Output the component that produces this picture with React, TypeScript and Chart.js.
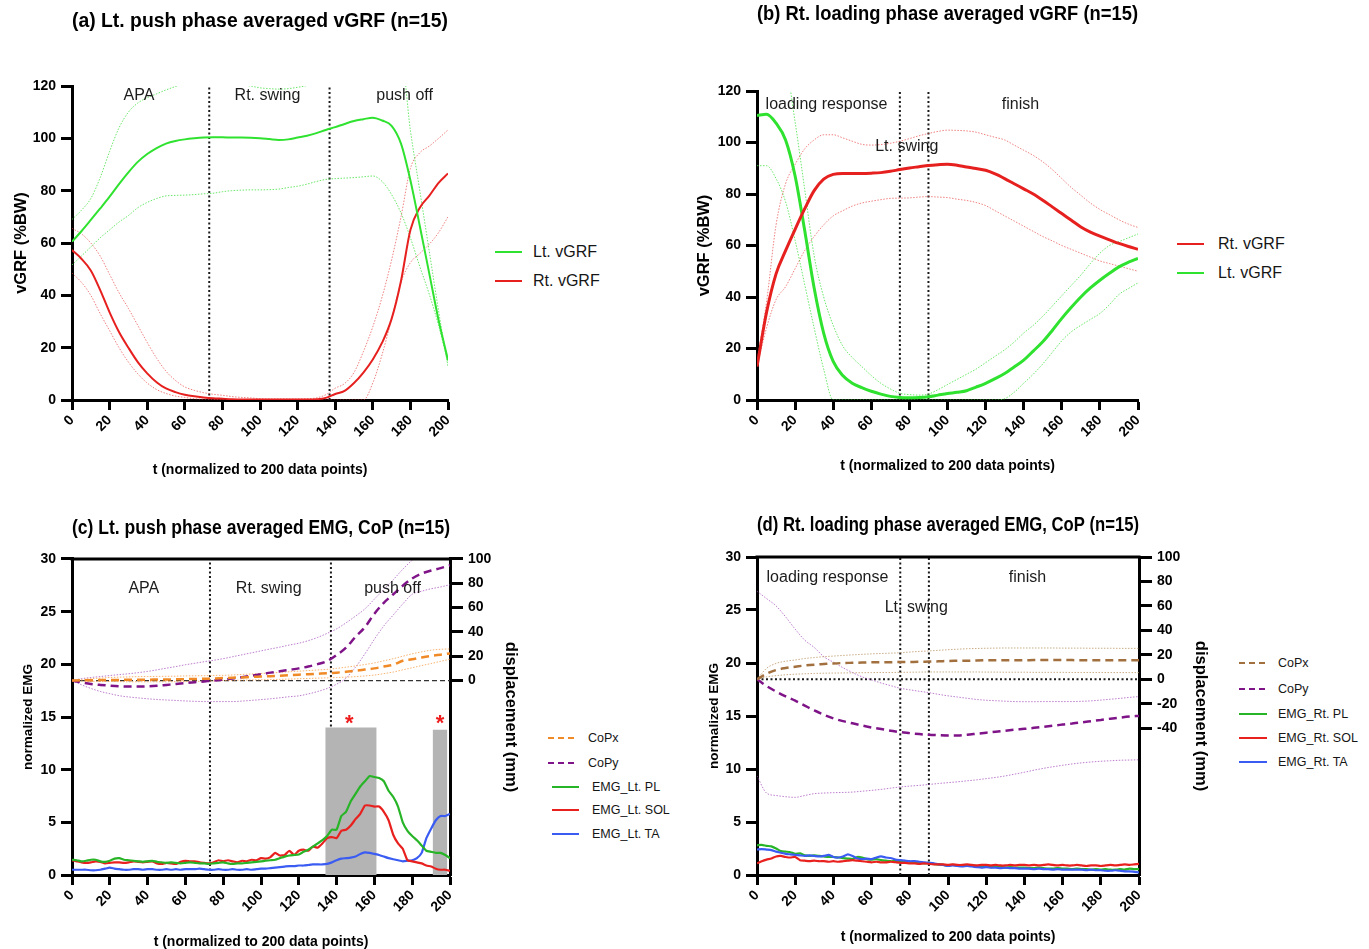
import React, { useEffect, useRef } from 'react';
import { Chart, registerables } from 'chart.js';
Chart.register(...registerables);

const FONT = '"Liberation Sans", Arial, Helvetica, sans-serif';
Chart.defaults.font.family = FONT;
Chart.defaults.color = '#000';

// ---------- x grids ----------
const X5 = [0, 5, 10, 15, 20, 25, 30, 35, 40, 45, 50, 55, 60, 65, 70, 75, 80, 85, 90, 95, 100, 105, 110, 115, 120, 125, 130, 135, 140, 145, 150, 155, 160, 165, 170, 175, 180, 185, 190, 195, 200];
const X25 = [0, 2.5, 5, 7.5, 10, 12.5, 15, 17.5, 20, 22.5, 25, 27.5, 30, 32.5, 35, 37.5, 40, 42.5, 45, 47.5, 50, 52.5, 55, 57.5, 60, 62.5, 65, 67.5, 70, 72.5, 75, 77.5, 80, 82.5, 85, 87.5, 90, 92.5, 95, 97.5, 100, 102.5, 105, 107.5, 110, 112.5, 115, 117.5, 120, 122.5, 125, 127.5, 130, 132.5, 135, 137.5, 140, 142.5, 145, 147.5, 150, 152.5, 155, 157.5, 160, 162.5, 165, 167.5, 170, 172.5, 175, 177.5, 180, 182.5, 185, 187.5, 190, 192.5, 195, 197.5, 200];

// ---------- (a) Lt. push phase vGRF ----------
const A_LT_MEAN = [60.5, 64.5, 68.8, 73.2, 77.7, 82.5, 87, 91, 94, 96.3, 98, 99, 99.6, 100, 100.3, 100.4, 100.4, 100.3, 100.3, 100.2, 100, 99.7, 99.4, 99.6, 100.3, 101, 102, 103.2, 104.3, 105.5, 106.6, 107.3, 107.9, 106.8, 104.8, 98, 84, 66.5, 48.5, 30.5, 15.3];
const A_LT_UPPER = [69, 72.5, 77, 85, 95, 104, 110, 113.5, 115.5, 117, 118.5, 119.8, 121, 122, 123, 123, 122.5, 121.5, 120.5, 120, 119.3, 119, 118.8, 119, 119.5, 120.2, 121.5, 123, 125, 126, 127, 128, 128, 128, 128, 131, 103, 80, 57, 34, 12.7];
const A_LT_LOWER = [51.6, 55, 58.5, 62, 65, 68, 70.5, 73.5, 75.5, 77, 78, 78.2, 78.3, 78.5, 78.8, 79, 79.6, 80, 80.2, 80.3, 80.3, 80.4, 80.6, 81.2, 81.7, 82.5, 83.5, 84.3, 84.6, 84.8, 85, 85.3, 85.6, 83.5, 78.5, 71.5, 62, 51, 40.5, 28.5, 14];
const A_RT_MEAN = [57.3, 54, 49.5, 42, 33.5, 26, 20, 14.5, 10.2, 6.8, 4.4, 3, 2, 1.4, 1, 0.7, 0.5, 0.3, 0.2, 0.2, 0.2, 0.2, 0.2, 0.2, 0.2, 0.2, 0.3, 0.8, 2.3, 3.5, 6.5, 10.5, 15.5, 22, 31, 45.5, 65, 73.5, 78, 83, 86.6];
const A_RT_UPPER = [65.6, 63.5, 60, 55, 48, 41, 35, 28.5, 22, 16, 11, 7.5, 5, 3.7, 2.8, 2.2, 1.8, 1.3, 1, 0.8, 0.5, 0.4, 0.4, 0.4, 0.4, 0.5, 0.8, 2, 4.5, 6.3, 10.5, 18.5, 28, 39.5, 53.5, 70, 88.5, 94.5, 97, 100, 103.2];
const A_RT_LOWER = [48.5, 45, 40, 33, 26.5, 20, 14.5, 10, 6.5, 4, 2.5, 1.5, 1, 0.5, 0.3, 0.2, 0.1, 0, 0, 0, 0, 0, 0, 0, 0, 0, 0, 0, 0, 0, 0, 0, 6.5, 17.5, 31, 45, 52.5, 56, 59.5, 64, 70];
const A_VLINES = [73, 137];
const A_PHASE_TEXT = ['APA', 'Rt. swing', 'push off'];
const A_PHASE_X = [35.6, 104, 176.9];
const A_PHASE_Y = [116.4, 116.4, 116.4];

// ---------- (b) Rt. loading phase vGRF ----------
const B_RT_MEAN = [13, 34, 49, 58, 66.3, 74.2, 81.3, 85.8, 87.6, 88, 88, 88, 88.1, 88.3, 88.8, 89.5, 90.1, 90.6, 91.1, 91.4, 91.6, 91.2, 90.5, 89.9, 89.2, 87.8, 86, 84, 82, 80, 77.6, 75, 72.4, 69.8, 67.2, 65.2, 63.6, 62.2, 60.8, 59.6, 58.5];
const B_RT_UPPER = [15, 38, 68, 84, 91.5, 97.5, 101, 103, 103, 101.8, 100.5, 99.3, 99, 99.2, 99.7, 100.5, 101.5, 102.6, 103.5, 104.3, 104.8, 104.7, 104.5, 104, 103, 102, 101, 99, 97, 95, 92.5, 89.5, 86, 82.5, 79.5, 76.5, 74, 72, 70, 68.3, 67];
const B_RT_LOWER = [13, 28, 39, 44, 51, 58, 63.5, 68, 71.5, 73.5, 75.3, 76.5, 77.2, 77.8, 78.3, 78.4, 78.5, 78.8, 79, 78.8, 78.6, 78, 77.5, 76.7, 75.5, 73.5, 71.5, 69.5, 67.5, 65.5, 63.5, 61.8, 60, 58.5, 57, 55.5, 54, 53, 52, 51, 50];
const B_LT_MEAN = [110.5, 111, 107.5, 101, 87, 66, 43.5, 26, 15, 9.5, 6.5, 4.8, 3.4, 2.3, 1.4, 1, 0.9, 1, 1.3, 1.9, 2.5, 3, 3.6, 5, 6.5, 8.3, 10.3, 12.8, 15.5, 19, 22.6, 27, 31.7, 36, 40, 43.5, 46.5, 49.2, 51.7, 53.5, 55];
const B_LT_UPPER = [141, 140, 138, 131, 108, 82, 56, 40, 29, 21, 16.5, 13, 9.5, 6.5, 4.3, 2.6, 2.1, 1.9, 2.3, 4, 6, 8, 10, 12, 14.5, 17, 19.5, 22.5, 26, 29, 32.5, 36.5, 40.5, 44.5, 48.5, 53, 57, 60, 61.5, 63, 64.5];
const B_LT_LOWER = [91, 91, 86, 77, 62, 45, 28, 12, 0, 0, 0, 0, 0, 0, 0, 0, 0, 0, 0, 0, 0, 0, 0, 0, 0, 0, 0.5, 3, 6.5, 10, 14, 18.5, 23, 26.5, 29, 31.3, 33.6, 37, 41, 43.3, 45.5];
const B_VLINES = [75, 90];
const B_PHASE_TEXT = ['loading response', 'finish', 'Lt. swing'];
const B_PHASE_X = [36.5, 138.3, 78.6];
const B_PHASE_Y = [114.8, 114.8, 98.3];

// ---------- (c) Lt. push phase EMG, CoP ----------
const C_COPX_MEAN = [0, 0.2, 0.3, 0.4, 0.5, 0.5, 0.6, 0.6, 0.7, 0.8, 0.9, 1, 1.1, 1.3, 1.5, 1.7, 2, 2.3, 2.6, 3, 3.3, 3.6, 4, 4.4, 4.8, 5.2, 5.6, 6, 6.5, 7.2, 8, 9, 10, 11.5, 13, 16.3, 17.5, 19, 20.3, 21.3, 22.3];
const C_COPX_UPPER = [0, 0.8, 1.5, 2, 2.5, 2.8, 3, 3.2, 3.3, 3.4, 3.5, 3.6, 3.8, 3.9, 4, 4.2, 4.3, 4.6, 5, 5.4, 5.8, 6.2, 6.7, 7.2, 7.7, 8.2, 8.7, 9.2, 10, 11, 12, 13.2, 14.5, 16.2, 18, 20, 22, 23.6, 25, 25.7, 26];
const C_COPX_LOWER = [0, -0.3, -0.5, -0.7, -0.8, -0.9, -1, -1, -1, -1, -1, -0.9, -0.8, -0.7, -0.5, -0.2, 0, 0.2, 0.3, 0.5, 0.6, 0.8, 1, 1.2, 1.5, 1.7, 2, 2.2, 2.5, 2.8, 3.2, 3.8, 4.5, 5.7, 7, 8.8, 10.5, 12.3, 14, 15.8, 17.5];
const C_COPY_MEAN = [0, -1.5, -2.8, -3.6, -4.2, -4.7, -5, -5, -4.8, -4.3, -3.6, -2.9, -2.1, -1.4, -0.7, 0, 0.8, 1.7, 2.8, 4, 5.2, 6.5, 7.6, 8.8, 10, 11.5, 13.5, 16, 21, 27, 36, 44, 55, 64, 71, 78, 84, 88, 90.5, 92.5, 94.8];
const C_COPY_UPPER = [0, 1.5, 2.5, 3.3, 4.1, 4.9, 5.6, 6.5, 7.5, 8.8, 10.2, 11.5, 13, 14.2, 15.5, 16.7, 18, 19.6, 21.2, 22.8, 24.4, 26, 27.5, 29.2, 30.7, 32.8, 35.5, 38.8, 42.5, 47.5, 53, 59, 67, 75, 83, 91.5, 99, 104, 108, 111, 114];
const C_COPY_LOWER = [0, -3.5, -6.5, -9, -10.8, -12.5, -13.5, -14.3, -15, -15.6, -16, -16.4, -16.8, -17.1, -17.3, -17.3, -17.3, -17.3, -16.9, -16.3, -15.7, -15, -14.2, -13.3, -12.6, -11, -9, -6.5, -3, 2, 11, 22, 34, 45, 54, 63, 71, 73.5, 75.5, 77, 78.8];
const C_PL = [1.45, 1.4, 1.3, 1.35, 1.45, 1.45, 1.3, 1.25, 1.35, 1.55, 1.6, 1.45, 1.4, 1.35, 1.3, 1.25, 1.3, 1.35, 1.25, 1.2, 1.15, 1.2, 1.15, 1.1, 1.15, 1.2, 1.15, 1.1, 1.1, 1.05, 1.1, 1.15, 1.2, 1.1, 1.05, 1.1, 1.1, 1.15, 1.2, 1.25, 1.3, 1.35, 1.4, 1.45, 1.6, 1.75, 1.85, 1.9, 1.95, 2.2, 2.4, 2.7, 3.0, 3.3, 3.7, 4.3, 4.3, 5.6, 6.0, 7.0, 7.7, 8.4, 8.9, 9.4, 9.3, 9.2, 8.9, 8.0, 7.4, 6.5, 5.0, 4.2, 3.7, 3.3, 2.8, 2.3, 2.2, 2.1, 2.1, 1.9, 1.6];
const C_SOL = [1.4, 1.3, 1.2, 1.15, 1.2, 1.3, 1.25, 1.1, 1.15, 1.2, 1.2, 1.15, 1.2, 1.3, 1.25, 1.2, 1.25, 1.3, 1.1, 1.05, 1.15, 1.1, 1.05, 1.25, 1.35, 1.3, 1.3, 1.2, 1.15, 1.1, 1.2, 1.4, 1.3, 1.4, 1.3, 1.2, 1.35, 1.3, 1.45, 1.4, 1.6, 1.55, 1.7, 2.1, 1.85, 1.9, 2.3, 1.9, 2.3, 2.4, 2.3, 2.7, 2.6, 3.0, 3.5, 3.6, 3.5, 4.2, 4.3, 4.7, 5.3, 5.8, 6.6, 6.6, 6.5, 6.5, 6.0, 5.2, 3.8, 3.0, 2.5, 1.4, 1.3, 1.2, 1.1, 0.9, 0.8, 0.6, 0.5, 0.5, 0.4];
const C_TA = [0.5, 0.5, 0.5, 0.5, 0.45, 0.45, 0.5, 0.6, 0.7, 0.6, 0.55, 0.5, 0.5, 0.55, 0.55, 0.5, 0.55, 0.55, 0.5, 0.5, 0.55, 0.5, 0.55, 0.5, 0.55, 0.55, 0.55, 0.6, 0.55, 0.5, 0.5, 0.55, 0.5, 0.5, 0.55, 0.5, 0.5, 0.55, 0.5, 0.55, 0.6, 0.6, 0.65, 0.7, 0.75, 0.8, 0.85, 0.85, 0.9, 0.9, 0.95, 1.0, 1.0, 1.0, 1.05, 1.2, 1.4, 1.55, 1.6, 1.65, 1.75, 2.0, 2.15, 2.1, 2.0, 1.9, 1.75, 1.6, 1.5, 1.4, 1.3, 1.35, 1.4, 1.6, 2.1, 3.5, 4.4, 5.2, 5.6, 5.6, 5.8];
const C_BAR_START = [134, 190.8];
const C_BAR_END = [161.2, 198.6];
const C_BAR_HEIGHT = [14, 13.8];
const C_STAR_X = [146.7, 194.7];
const C_STAR_Y = [14.35, 14.35];
const C_VLINES = [73, 137];
const C_PHASE_TEXT = ['APA', 'Rt. swing', 'push off'];
const C_PHASE_X = [38, 104.1, 169.6];
const C_PHASE_Y = [27.2, 27.2, 27.2];
const C_RIGHT_TICKS = [0, 20, 40, 60, 80, 100];

// ---------- (d) Rt. loading phase EMG, CoP ----------
const D_COPX_MEAN = [0, 4.5, 7.6, 9.2, 10.3, 11.3, 12, 12.5, 13, 13.3, 13.5, 13.7, 13.9, 14, 14, 14.1, 14.2, 14.3, 14.5, 14.7, 15, 15.1, 15.2, 15.4, 15.5, 15.5, 15.5, 15.6, 15.6, 15.7, 15.7, 15.8, 15.8, 15.7, 15.6, 15.5, 15.5, 15.5, 15.5, 15.5, 15.5];
const D_COPX_UPPER = [0, 9, 13, 14.8, 15.8, 17, 17.8, 18.5, 19, 19.5, 20, 20.4, 20.8, 21.1, 21.4, 21.7, 22.3, 22.8, 23.2, 23.7, 24.2, 24.6, 25, 25.2, 25.4, 25.5, 25.6, 25.6, 25.6, 25.6, 25.6, 25.6, 25.5, 25.5, 25.5, 25.4, 25.4, 25.4, 25.3, 25.3, 25.3];
const D_COPX_LOWER = [0, 2, 3, 3.7, 4.2, 4.5, 4.8, 5, 5.1, 5.2, 5.3, 5.4, 5.5, 5.6, 5.6, 5.7, 5.8, 5.9, 6, 6, 6, 6, 6, 6, 5.9, 5.9, 5.8, 5.8, 5.8, 5.7, 5.7, 5.7, 5.7, 5.6, 5.6, 5.6, 5.6, 5.5, 5.5, 5.5, 5.5];
const D_COPY_MEAN = [0, -5.5, -10, -14, -17.5, -21.5, -25.5, -29, -32, -34.2, -36, -37.8, -39.4, -40.7, -42, -43.2, -44, -44.8, -45.4, -45.7, -45.9, -45.9, -45.3, -44.5, -43.7, -42.9, -42, -41.2, -40.5, -39.7, -38.8, -37.9, -37, -36.1, -35.2, -34.2, -33.2, -32.2, -31.3, -30.5, -29.9];
const D_COPY_UPPER = [72, 66, 60, 51, 41, 32, 26, 18.5, 14, 9.5, 5.5, 2, -0.5, -3, -5.2, -7.3, -8.6, -9.8, -10.9, -12.3, -13.5, -14.5, -15.5, -16.5, -17.1, -17.5, -17.9, -18.2, -18.3, -18.3, -18.2, -18.2, -18.2, -18.2, -18, -17.6, -17, -16.3, -15.6, -14.8, -14.1];
const D_COPY_LOWER = [-79, -93, -95, -96, -96.5, -95, -93.5, -93, -92.7, -92.5, -92.2, -91.5, -90.8, -90, -89, -88, -87.3, -86.7, -86, -85.2, -84.5, -83.8, -83, -82.2, -81.2, -80.2, -79, -77.5, -76, -74.3, -72.8, -71.5, -70.3, -69.2, -68.3, -67.6, -67, -66.6, -66.2, -66, -65.8];
const D_PL = [2.8, 2.85, 2.75, 2.7, 2.5, 2.25, 2.2, 2.15, 2.0, 2.05, 1.85, 1.8, 1.85, 1.8, 1.75, 1.7, 1.7, 1.65, 1.6, 1.55, 1.5, 1.7, 1.65, 1.5, 1.45, 1.5, 1.4, 1.35, 1.3, 1.3, 1.25, 1.3, 1.25, 1.2, 1.15, 1.1, 1.15, 1.05, 1.0, 0.95, 0.9, 0.95, 0.9, 0.9, 0.85, 0.9, 0.85, 0.8, 0.8, 0.75, 0.8, 0.75, 0.7, 0.75, 0.7, 0.7, 0.7, 0.65, 0.65, 0.7, 0.65, 0.6, 0.6, 0.65, 0.6, 0.6, 0.55, 0.6, 0.55, 0.55, 0.5, 0.55, 0.5, 0.55, 0.5, 0.5, 0.55, 0.5, 0.6, 0.55, 0.55];
const D_SOL = [1.1, 1.3, 1.45, 1.55, 1.75, 1.8, 1.7, 1.65, 1.7, 1.4, 1.35, 1.3, 1.35, 1.3, 1.3, 1.25, 1.3, 1.25, 1.3, 1.35, 1.4, 1.35, 1.3, 1.25, 1.2, 1.25, 1.2, 1.2, 1.25, 1.2, 1.15, 1.15, 1.1, 1.1, 1.05, 1.1, 1.05, 1.0, 1.0, 1.0, 0.95, 1.0, 0.95, 0.95, 1.0, 0.95, 0.9, 0.95, 0.95, 0.9, 0.95, 0.9, 0.9, 0.95, 0.9, 0.95, 0.95, 0.9, 0.95, 0.9, 0.95, 1.0, 0.95, 0.9, 0.95, 0.9, 0.9, 0.95, 0.9, 0.85, 0.9, 0.9, 0.85, 0.9, 0.95, 0.9, 0.95, 1.0, 0.95, 1.0, 1.05];
const D_TA = [2.4, 2.45, 2.4, 2.35, 2.2, 2.1, 2.0, 1.95, 1.9, 1.85, 1.8, 1.85, 1.8, 1.75, 1.8, 1.9, 1.7, 1.65, 1.75, 1.95, 1.8, 1.55, 1.5, 1.55, 1.5, 1.65, 1.75, 1.65, 1.6, 1.45, 1.4, 1.35, 1.3, 1.3, 1.25, 1.2, 1.15, 1.1, 1.0, 0.95, 0.85, 0.9, 0.85, 0.8, 0.85, 0.8, 0.75, 0.7, 0.75, 0.7, 0.7, 0.65, 0.7, 0.65, 0.65, 0.6, 0.6, 0.6, 0.55, 0.6, 0.55, 0.55, 0.5, 0.55, 0.5, 0.5, 0.5, 0.5, 0.5, 0.45, 0.5, 0.45, 0.45, 0.4, 0.4, 0.45, 0.4, 0.35, 0.35, 0.3, 0.25];
const D_VLINES = [75, 90];
const D_PHASE_TEXT = ['loading response', 'finish', 'Lt. swing'];
const D_PHASE_X = [36.9, 141.6, 83.4];
const D_PHASE_Y = [28.1, 28.1, 25.2];
const D_RIGHT_TICKS = [-40, -20, 0, 20, 40, 60, 80, 100];

const ZERO_X = [0, 200];
const ZERO_Y = [0, 0];

// ---------- colours ----------
const GREEN = '#2fe22f';
const GREEN_SD = 'rgba(70,225,70,0.8)';
const RED = '#e6201e';
const RED_SD = 'rgba(230,60,60,0.65)';
const EMG_GREEN = '#27b427';
const EMG_RED = '#e8201e';
const EMG_BLUE = '#3a5cf2';
const ORANGE = '#f08a26';
const ORANGE_SD = 'rgba(245,160,80,0.8)';
const PURPLE = '#7f1488';
const PURPLE_SD = 'rgba(160,70,185,0.7)';
const BROWN = '#a2703e';
const BROWN_SD = 'rgba(185,145,95,0.75)';
const BAR_GREY = '#b4b4b4';
const STAR_RED = '#ee1c1c';

const LEG_A = [
  { label: 'Lt. vGRF', color: GREEN, dashed: false },
  { label: 'Rt. vGRF', color: RED, dashed: false },
];
const LEG_B = [
  { label: 'Rt. vGRF', color: RED, dashed: false },
  { label: 'Lt. vGRF', color: GREEN, dashed: false },
];
const LEG_C = [
  { label: 'CoPx', color: ORANGE, dashed: true },
  { label: 'CoPy', color: PURPLE, dashed: true },
  { label: 'EMG_Lt. PL', color: EMG_GREEN, dashed: false },
  { label: 'EMG_Lt. SOL', color: EMG_RED, dashed: false },
  { label: 'EMG_Lt. TA', color: EMG_BLUE, dashed: false },
];
const LEG_D = [
  { label: 'CoPx', color: BROWN, dashed: true },
  { label: 'CoPy', color: PURPLE, dashed: true },
  { label: 'EMG_Rt. PL', color: EMG_GREEN, dashed: false },
  { label: 'EMG_Rt. SOL', color: EMG_RED, dashed: false },
  { label: 'EMG_Rt. TA', color: EMG_BLUE, dashed: false },
];

// ---------- helpers ----------
const pts = (xs: number[], ys: number[]) => ys.map((y, i) => ({ x: xs[i], y }));

function line(data: any[], color: string, width: number, extra: any = {}) {
  return {
    data,
    borderColor: color,
    backgroundColor: color,
    borderWidth: width,
    pointRadius: 0,
    pointHoverRadius: 0,
    fill: false,
    cubicInterpolationMode: 'monotone',
    ...extra,
  };
}
const sd = (data: any[], color: string, extra: any = {}) =>
  line(data, color, 1, { borderDash: [1.5, 1.5], ...extra });
const emg = (data: any[], color: string) =>
  line(data, color, 2.2, { cubicInterpolationMode: 'default', tension: 0.15 });
const vline = (x: number, y0: number, y1: number) =>
  line([{ x, y: y0 }, { x, y: y1 }], '#1a1a1a', 2, {
    borderDash: [2, 2.5],
    cubicInterpolationMode: 'default',
    tension: 0,
  });
const greyBar = (x0: number, x1: number, h: number) =>
  line([{ x: x0, y: h }, { x: x1, y: h }], 'rgba(0,0,0,0)', 0, {
    fill: 'origin',
    backgroundColor: BAR_GREY,
    cubicInterpolationMode: 'default',
    tension: 0,
  });

function textPlugin(items: { text: string; x: number; y: number; font: string; color: string }[]) {
  return {
    id: 'phaseText',
    afterDatasetsDraw(chart: any) {
      const { ctx, scales } = chart;
      items.forEach((it) => {
        ctx.save();
        ctx.font = it.font;
        ctx.fillStyle = it.color;
        ctx.textAlign = 'center';
        ctx.textBaseline = 'middle';
        ctx.fillText(it.text, scales.x.getPixelForValue(it.x), scales.y.getPixelForValue(it.y));
        ctx.restore();
      });
    },
  };
}
const phaseItems = (texts: string[], xs: number[], ys: number[]) =>
  texts.map((t, i) => ({ text: t, x: xs[i], y: ys[i], font: `16px ${FONT}`, color: '#1c1c1c' }));

const frameTop = {
  id: 'frameTop',
  afterDraw(chart: any) {
    const { ctx, chartArea: a } = chart;
    ctx.save();
    ctx.strokeStyle = '#000';
    ctx.lineWidth = 3;
    ctx.beginPath();
    ctx.moveTo(a.left - 1.5, a.top);
    ctx.lineTo(a.right + 1.5, a.top);
    ctx.stroke();
    ctx.restore();
  },
};

const tickFont = { size: 14, weight: 'bold', family: FONT };

function xAxis(h: number, padBottom: number, lh = 1.2) {
  return {
    type: 'linear',
    position: 'bottom',
    min: 0,
    max: 200,
    ticks: { stepSize: 20, autoSkip: false, minRotation: 45, maxRotation: 45, font: tickFont, color: '#000', padding: 2 },
    grid: { display: true, drawOnChartArea: false, drawTicks: true, tickLength: 10, tickWidth: 3, tickColor: '#000' },
    border: { display: true, width: 3, color: '#000' },
    title: {
      display: true,
      text: 't (normalized to 200 data points)',
      color: '#000',
      font: { size: 14, weight: 'bold', family: FONT, lineHeight: lh },
      padding: { top: 0, bottom: padBottom },
    },
    afterFit: (s: any) => {
      s.height = h;
    },
  };
}

function yAxis(opts: {
  min: number; max: number; step?: number; width: number; title: string; titleSize: number;
  titlePad: number; position?: string; tickList?: number[]; tickLength?: number; grid?: boolean;
}) {
  const pos = opts.position || 'left';
  const ax: any = {
    type: 'linear',
    position: pos,
    min: opts.min,
    max: opts.max,
    ticks: { font: tickFont, color: '#000', padding: 5 },
    grid: {
      display: true,
      drawOnChartArea: false,
      drawTicks: true,
      tickLength: opts.tickLength || 11,
      tickWidth: 3,
      tickColor: '#000',
    },
    border: { display: true, width: 3, color: '#000' },
    title: {
      display: true,
      text: opts.title,
      color: '#000',
      font: { size: opts.titleSize, weight: 'bold', family: FONT },
      padding: { top: opts.titlePad, bottom: 0 },
    },
    afterFit: (s: any) => {
      s.width = opts.width;
    },
  };
  if (opts.step) ax.ticks.stepSize = opts.step;
  if (opts.tickList) {
    const list = opts.tickList;
    ax.afterBuildTicks = (axis: any) => {
      axis.ticks = list.map((v) => ({ value: v }));
    };
  }
  return ax;
}

function baseOptions(title: string, padTop: number, padBottom: number, padRight: number, scales: any) {
  return {
    responsive: false,
    animation: false,
    events: [],
    layout: { padding: { left: 0, right: padRight, top: 0, bottom: 0 } },
    plugins: {
      legend: { display: false },
      tooltip: { enabled: false },
      title: {
        display: true,
        text: title,
        fullSize: false,
        color: '#000',
        font: { size: 19.5, weight: 'bold', family: FONT },
        padding: { top: padTop, bottom: padBottom },
      },
    },
    scales,
  };
}

function configA(): any {
  const datasets = [
    line(pts(X5, A_LT_MEAN), GREEN, 2),
    line(pts(X5, A_RT_MEAN), RED, 2),
    sd(pts(X5, A_LT_UPPER), GREEN_SD),
    sd(pts(X5, A_LT_LOWER), GREEN_SD),
    sd(pts(X5, A_RT_UPPER), RED_SD),
    sd(pts(X5, A_RT_LOWER), RED_SD),
    ...A_VLINES.map((x) => vline(x, 0, 120)),
  ];
  return {
    type: 'line',
    data: { datasets },
    options: baseOptions('(a) Lt. push phase averaged vGRF (n=15)', 10.3, 52.3, 22, {
      x: xAxis(90, 11.6),
      y: yAxis({ min: 0, max: 120, step: 20, width: 72, title: 'vGRF (%BW)', titleSize: 16.5, titlePad: 11.6 }),
    }),
    plugins: [textPlugin(phaseItems(A_PHASE_TEXT, A_PHASE_X, A_PHASE_Y))],
  };
}

function configB(): any {
  const datasets = [
    line(pts(X5, B_RT_MEAN), RED, 3),
    line(pts(X5, B_LT_MEAN), GREEN, 3),
    sd(pts(X5, B_RT_UPPER), RED_SD),
    sd(pts(X5, B_RT_LOWER), RED_SD),
    sd(pts(X5, B_LT_UPPER), GREEN_SD),
    sd(pts(X5, B_LT_LOWER), GREEN_SD),
    ...B_VLINES.map((x) => vline(x, 0, 120)),
  ];
  return {
    type: 'line',
    data: { datasets },
    options: baseOptions('(b) Rt. loading phase averaged vGRF (n=15)', 3.3, 64.3, 22, {
      x: xAxis(90, 15.6),
      y: yAxis({ min: 0, max: 120, step: 20, width: 77, title: 'vGRF (%BW)', titleSize: 16.5, titlePad: 15 }),
    }),
    plugins: [textPlugin(phaseItems(B_PHASE_TEXT, B_PHASE_X, B_PHASE_Y))],
  };
}

function configC(): any {
  const datasets = [
    emg(pts(X25, C_PL), EMG_GREEN),
    emg(pts(X25, C_SOL), EMG_RED),
    emg(pts(X25, C_TA), EMG_BLUE),
    line(pts(X5, C_COPX_MEAN), ORANGE, 2.5, { borderDash: [8, 5], yAxisID: 'y1' }),
    line(pts(X5, C_COPY_MEAN), PURPLE, 2.5, { borderDash: [8, 5], yAxisID: 'y1' }),
    sd(pts(X5, C_COPX_UPPER), ORANGE_SD, { yAxisID: 'y1' }),
    sd(pts(X5, C_COPX_LOWER), ORANGE_SD, { yAxisID: 'y1' }),
    sd(pts(X5, C_COPY_UPPER), PURPLE_SD, { yAxisID: 'y1' }),
    sd(pts(X5, C_COPY_LOWER), PURPLE_SD, { yAxisID: 'y1' }),
    ...C_BAR_START.map((x0, i) => greyBar(x0, C_BAR_END[i], C_BAR_HEIGHT[i])),
    ...C_VLINES.map((x) => vline(x, 0, 30)),
    line(pts(ZERO_X, ZERO_Y), '#333', 1.2, { borderDash: [5, 3], yAxisID: 'y1', cubicInterpolationMode: 'default', tension: 0 }),
  ];
  const stars = C_STAR_X.map((x, i) => ({ text: '*', x, y: C_STAR_Y[i], font: `bold 22px ${FONT}`, color: STAR_RED }));
  return {
    type: 'line',
    data: { datasets },
    options: baseOptions('(c) Lt. push phase averaged EMG, CoP (n=15)', 16.7, 18.9, 0, {
      x: xAxis(74, 0, 1),
      y: yAxis({ min: 0, max: 30, step: 5, width: 72, title: 'normalized EMG', titleSize: 13.5, titlePad: 19.9 }),
      y1: yAxis({ min: -160, max: 100, width: 80, title: 'displacement (mm)', titleSize: 16.5, titlePad: 9.3, position: 'right', tickList: C_RIGHT_TICKS, tickLength: 13 }),
    }),
    plugins: [textPlugin([...phaseItems(C_PHASE_TEXT, C_PHASE_X, C_PHASE_Y), ...stars]), frameTop],
  };
}

function configD(): any {
  const datasets = [
    emg(pts(X25, D_SOL), EMG_RED),
    emg(pts(X25, D_TA), EMG_BLUE),
    emg(pts(X25, D_PL), EMG_GREEN),
    line(pts(X5, D_COPX_MEAN), BROWN, 2.5, { borderDash: [8, 5], yAxisID: 'y1' }),
    line(pts(X5, D_COPY_MEAN), PURPLE, 2.5, { borderDash: [8, 5], yAxisID: 'y1' }),
    sd(pts(X5, D_COPX_UPPER), BROWN_SD, { yAxisID: 'y1' }),
    sd(pts(X5, D_COPX_LOWER), BROWN_SD, { yAxisID: 'y1' }),
    sd(pts(X5, D_COPY_UPPER), PURPLE_SD, { yAxisID: 'y1' }),
    sd(pts(X5, D_COPY_LOWER), PURPLE_SD, { yAxisID: 'y1' }),
    ...D_VLINES.map((x) => vline(x, 0, 30)),
    line(pts(ZERO_X, ZERO_Y), '#1a1a1a', 2, { borderDash: [2, 2.5], yAxisID: 'y1', cubicInterpolationMode: 'default', tension: 0 }),
  ];
  return {
    type: 'line',
    data: { datasets },
    options: baseOptions('(d) Rt. loading phase averaged EMG, CoP (n=15)', 14, 19.6, 0, {
      x: xAxis(74, 3.8),
      y: yAxis({ min: 0, max: 30, step: 5, width: 77, title: 'normalized EMG', titleSize: 13.5, titlePad: 25.9 }),
      y1: yAxis({ min: -160, max: 100, width: 86, title: 'displacement (mm)', titleSize: 16.5, titlePad: 14.1, position: 'right', tickList: D_RIGHT_TICKS, tickLength: 13 }),
    }),
    plugins: [textPlugin(phaseItems(D_PHASE_TEXT, D_PHASE_X, D_PHASE_Y)), frameTop],
  };
}

type LegItem = { label: string; color: string; dashed: boolean };
function Legend(props: { items: LegItem[]; lefts: number[]; tops: number[]; lineLen: number; gap: number; fontSize: number; thick: number }) {
  const { items, lefts, tops, lineLen, gap, fontSize, thick } = props;
  return (
    <>
      {items.map((it, i) => (
        <div
          key={i}
          style={{
            position: 'absolute',
            left: lefts[i],
            top: tops[i] - 10,
            height: 20,
            display: 'flex',
            alignItems: 'center',
            whiteSpace: 'nowrap',
            fontFamily: FONT,
            fontSize,
            color: '#161616',
          }}
        >
          <span
            style={{
              display: 'inline-block',
              width: lineLen,
              height: thick,
              background: it.dashed
                ? `repeating-linear-gradient(to right, ${it.color} 0px, ${it.color} 6px, transparent 6px, transparent 10px)`
                : it.color,
            }}
          />
          <span style={{ marginLeft: gap }}>{it.label}</span>
        </div>
      ))}
    </>
  );
}

export default function App() {
  const ra = useRef<HTMLCanvasElement>(null);
  const rb = useRef<HTMLCanvasElement>(null);
  const rc = useRef<HTMLCanvasElement>(null);
  const rd = useRef<HTMLCanvasElement>(null);

  useEffect(() => {
    const charts = [
      new Chart(ra.current as HTMLCanvasElement, configA()),
      new Chart(rb.current as HTMLCanvasElement, configB()),
      new Chart(rc.current as HTMLCanvasElement, configC()),
      new Chart(rd.current as HTMLCanvasElement, configD()),
    ];
    return () => charts.forEach((c) => c.destroy());
  }, []);

  const cv = (left: number, top: number, w: number, h: number) => ({
    position: 'absolute' as const,
    left,
    top,
    width: w,
    height: h,
  });

  return (
    <div style={{ position: 'absolute', left: 0, top: 0, width: 1369, height: 949, background: '#fff', overflow: 'hidden' }}>
      <canvas ref={ra} width={470} height={490} style={cv(0, 0, 470, 490)} />
      <canvas ref={rb} width={480} height={490} style={cv(680, 0, 480, 490)} />
      <canvas ref={rc} width={530} height={449} style={cv(0, 500, 530, 449)} />
      <canvas ref={rd} width={545} height={449} style={cv(680, 500, 545, 449)} />
      <Legend items={LEG_A} lefts={[495, 495]} tops={[252, 281]} lineLen={27} gap={11} fontSize={16} thick={1.5} />
      <Legend items={LEG_B} lefts={[1177, 1177]} tops={[244, 273]} lineLen={27} gap={14} fontSize={16} thick={2.5} />
      <Legend items={LEG_C} lefts={[548, 548, 552, 552, 552]} tops={[738, 763, 787, 810, 834]} lineLen={27} gap={13} fontSize={12.5} thick={2.5} />
      <Legend items={LEG_D} lefts={[1239, 1239, 1239, 1239, 1239]} tops={[663, 689, 714, 738, 762]} lineLen={28} gap={11} fontSize={12.5} thick={2.5} />
    </div>
  );
}
